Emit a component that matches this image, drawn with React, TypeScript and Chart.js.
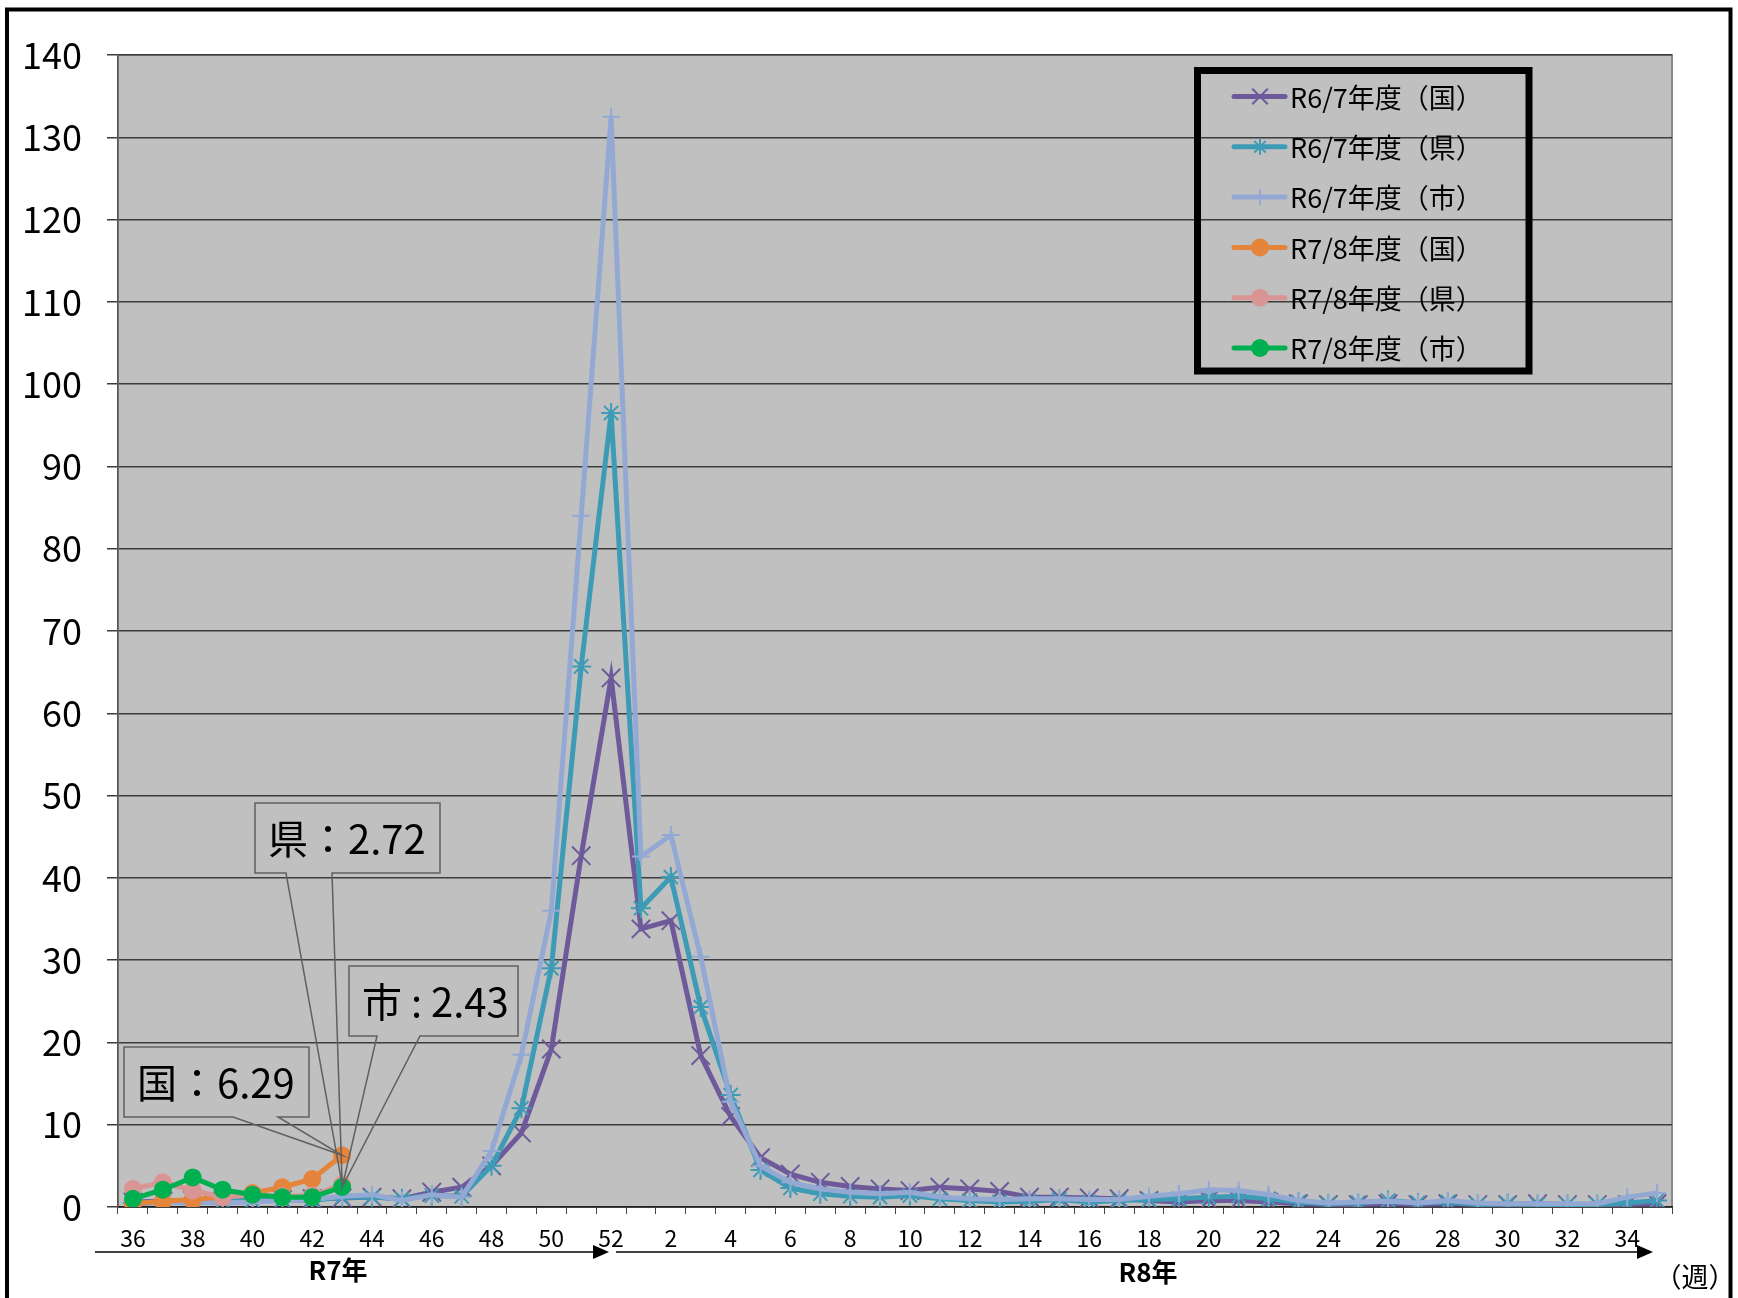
import React, { useEffect, useRef } from 'react';
import { Chart, registerables } from 'chart.js';

Chart.register(...registerables);

const FONT = '"Noto Sans CJK JP", "Noto Sans", sans-serif';

// ---- data ----
const weeks = [
  '36', '37', '38', '39', '40', '41', '42', '43', '44', '45', '46', '47', '48', '49', '50', '51', '52',
  '1', '2', '3', '4', '5', '6', '7', '8', '9', '10', '11', '12', '13', '14', '15', '16', '17', '18', '19', '20',
  '21', '22', '23', '24', '25', '26', '27', '28', '29', '30', '31', '32', '33', '34', '35',
];

const seriesLabels = [
  'R6/7年度（国）',
  'R6/7年度（県）',
  'R6/7年度（市）',
  'R7/8年度（国）',
  'R7/8年度（県）',
  'R7/8年度（市）',
];

const r67Kuni = [
  0.6, 0.7, 0.8, 0.7, 0.8, 0.9, 1.0, 1.1, 1.2, 1.0, 1.8, 2.4, 5.0, 9.0, 19.2, 42.7, 64.3,
  33.8, 34.8, 18.4, 11.0, 6.0, 4.0, 3.0, 2.5, 2.2, 2.0, 2.4, 2.2, 1.9, 1.2, 1.2, 1.1, 1.0, 0.8, 0.6, 0.8,
  0.8, 0.6, 0.4, 0.3, 0.3, 0.4, 0.3, 0.4, 0.3, 0.3, 0.4, 0.3, 0.3, 0.3, 0.4,
];
const r67Ken = [
  0.5, 0.6, 0.5, 0.7, 0.8, 0.9, 0.8, 1.2, 1.2, 1.0, 1.4, 1.3, 5.0, 12.0, 29.0, 65.7, 96.5,
  36.3, 40.1, 24.3, 13.6, 4.5, 2.3, 1.6, 1.3, 1.2, 1.4, 1.0, 0.8, 0.6, 0.7, 0.9, 0.6, 0.8, 0.9, 1.0, 1.2,
  1.3, 1.0, 0.6, 0.4, 0.5, 0.8, 0.5, 0.6, 0.3, 0.4, 0.3, 0.3, 0.3, 0.5, 0.8,
];
const r67Shi = [
  0.4, 0.5, 0.6, 0.5, 0.6, 0.8, 0.9, 1.3, 1.5, 0.8, 1.5, 1.2, 6.8, 18.5, 36.0, 84.0, 132.5,
  42.6, 45.2, 30.4, 12.8, 5.0, 3.0, 2.2, 1.8, 1.6, 1.8, 1.2, 1.0, 0.9, 1.0, 1.0, 0.9, 0.9, 1.3, 1.6, 2.1,
  2.0, 1.5, 0.8, 0.5, 0.6, 0.7, 0.5, 0.8, 0.5, 0.4, 0.4, 0.4, 0.4, 1.2, 1.7,
];
const r78Kuni = [0.4, 0.7, 0.9, 1.2, 1.7, 2.4, 3.4, 6.29];
const r78Ken = [2.2, 3.0, 2.0, 1.2, 1.5, 1.3, 1.4, 2.72];
const r78Shi = [1.0, 2.1, 3.6, 2.1, 1.5, 1.2, 1.2, 2.43];

const calloutNames = ['国', '県', '市'];

// ---- styles ----
const styles = [
  { color: '#6E5A9A', point: 'crossRot', radius: 13, legendR: 11 },
  { color: '#3D9BB5', point: 'star', radius: 10, legendR: 8 },
  { color: '#93A9D3', point: 'cross', radius: 9, legendR: 8 },
  { color: '#E5843B', point: 'circle', radius: 8, legendR: 9 },
  { color: '#D99594', point: 'circle', radius: 8, legendR: 9 },
  { color: '#00B050', point: 'circle', radius: 8, legendR: 9 },
];
const allData = [r67Kuni, r67Ken, r67Shi, r78Kuni, r78Ken, r78Shi];

function drawMarker(ctx: CanvasRenderingContext2D, style: string, x: number, y: number, r: number, color: string) {
  ctx.save();
  ctx.strokeStyle = color;
  ctx.fillStyle = color;
  ctx.lineWidth = 2;
  ctx.beginPath();
  if (style === 'circle') {
    ctx.arc(x, y, r, 0, Math.PI * 2);
    ctx.fill();
  } else {
    const d = r * 0.707;
    if (style === 'crossRot' || style === 'star') {
      ctx.moveTo(x - d, y - d); ctx.lineTo(x + d, y + d);
      ctx.moveTo(x - d, y + d); ctx.lineTo(x + d, y - d);
    }
    if (style === 'cross' || style === 'star') {
      ctx.moveTo(x, y - r); ctx.lineTo(x, y + r);
      ctx.moveTo(x - r, y); ctx.lineTo(x + r, y);
    }
    ctx.stroke();
  }
  ctx.restore();
}

const deco = {
  id: 'deco',
  beforeDraw(chart: any) {
    const { ctx, chartArea: a } = chart;
    ctx.save();
    ctx.fillStyle = '#ffffff';
    ctx.fillRect(0, 0, chart.width, chart.height);
    ctx.fillStyle = '#C0C0C0';
    ctx.fillRect(a.left, a.top, a.right - a.left, a.bottom - a.top);
    ctx.strokeStyle = '#8a8a8a';
    ctx.lineWidth = 2;
    ctx.strokeRect(a.left, a.top, a.right - a.left, a.bottom - a.top);
    // outer frame
    ctx.strokeStyle = '#000';
    ctx.lineWidth = 4;
    ctx.beginPath();
    ctx.moveTo(7, 1300);
    ctx.lineTo(7, 9.5);
    ctx.lineTo(1730.5, 9.5);
    ctx.lineTo(1730.5, 1300);
    ctx.stroke();
    ctx.restore();
  },
  afterDraw(chart: any) {
    const { ctx } = chart;
    const xs = chart.scales.x;
    const ys = chart.scales.y;
    ctx.save();

    // callouts
    const idx = r78Kuni.length - 1;
    const px = xs.getPixelForValue(idx);
    const boxes = [
      { l: 124, t: 1047, r: 309, b: 1117, w1: 233, w2: 278, v: r78Kuni[idx], text: `${calloutNames[0]}：${r78Kuni[idx].toFixed(2)}` },
      { l: 255, t: 803, r: 440, b: 873, w1: 286, w2: 332, v: r78Ken[idx], text: `${calloutNames[1]}：${r78Ken[idx].toFixed(2)}` },
      { l: 349, t: 966, r: 518, b: 1036, w1: 377, w2: 420, v: r78Shi[idx], text: `${calloutNames[2]} : ${r78Shi[idx].toFixed(2)}` },
    ];
    boxes.forEach((c) => {
      const py = ys.getPixelForValue(c.v);
      ctx.strokeStyle = '#606060';
      ctx.lineWidth = 1.5;
      ctx.beginPath();
      ctx.moveTo(c.l, c.t);
      ctx.lineTo(c.r, c.t);
      ctx.lineTo(c.r, c.b);
      ctx.lineTo(c.w2, c.b);
      ctx.lineTo(px, py);
      ctx.lineTo(c.w1, c.b);
      ctx.lineTo(c.l, c.b);
      ctx.closePath();
      ctx.stroke();
      ctx.fillStyle = '#000';
      ctx.font = `40px ${FONT}`;
      ctx.textAlign = 'left';
      ctx.textBaseline = 'middle';
      ctx.fillText(c.text, c.l + 13, (c.t + c.b) / 2 + 1);
    });

    // legend
    ctx.strokeStyle = '#000';
    ctx.lineWidth = 7;
    ctx.strokeRect(1197.5, 70.5, 1529 - 1197.5, 371 - 70.5);
    seriesLabels.forEach((lab, i) => {
      const y = 96.5 + i * 50.3;
      const s = styles[i];
      ctx.strokeStyle = s.color;
      ctx.lineWidth = 5;
      ctx.lineCap = 'round';
      ctx.beginPath();
      ctx.moveTo(1234, y);
      ctx.lineTo(1285, y);
      ctx.stroke();
      ctx.lineCap = 'butt';
      drawMarker(ctx, s.point, 1260, y, s.legendR, s.color);
      ctx.fillStyle = '#000';
      ctx.font = `27px ${FONT}`;
      ctx.textAlign = 'left';
      ctx.textBaseline = 'middle';
      ctx.fillText(lab, 1290, y + 1);
    });

    // arrows
    const arrow = (x1: number, x2: number, y: number) => {
      ctx.strokeStyle = '#000';
      ctx.fillStyle = '#000';
      ctx.lineWidth = 1.5;
      ctx.beginPath();
      ctx.moveTo(x1, y);
      ctx.lineTo(x2 - 14, y);
      ctx.stroke();
      ctx.beginPath();
      ctx.moveTo(x2, y);
      ctx.lineTo(x2 - 16, y - 7);
      ctx.lineTo(x2 - 16, y + 7);
      ctx.closePath();
      ctx.fill();
    };
    arrow(95, 609, 1252);
    arrow(616, 1653, 1252);

    ctx.fillStyle = '#000';
    ctx.font = `bold 26px ${FONT}`;
    ctx.textAlign = 'center';
    ctx.textBaseline = 'middle';
    ctx.fillText('R7年', 338, 1270);
    ctx.fillText('R8年', 1148, 1272);
    ctx.font = `27px ${FONT}`;
    ctx.fillText('（週）', 1695, 1277);

    ctx.restore();
  },
};

export default function App() {
  const ref = useRef<HTMLCanvasElement>(null);

  useEffect(() => {
    const canvas = ref.current!;
    const datasets = allData.map((d, i) => ({
      label: seriesLabels[i],
      data: d,
      borderColor: styles[i].color,
      backgroundColor: styles[i].color,
      pointBorderColor: styles[i].color,
      pointBackgroundColor: styles[i].color,
      borderWidth: 5,
      pointStyle: styles[i].point,
      pointRadius: styles[i].radius,
      pointBorderWidth: 2,
      tension: 0,
      order: 5 - i,
      fill: false,
    }));

    const chart = new Chart(canvas, {
      type: 'line',
      data: { labels: weeks, datasets: datasets as any },
      options: {
        responsive: false,
        animation: false,
        devicePixelRatio: 1,
        layout: { padding: { top: 55, right: 66, left: 0, bottom: 0 } },
        plugins: {
          legend: { display: false },
          tooltip: { enabled: false },
          title: { display: false },
        },
        scales: {
          x: {
            type: 'category',
            offset: true,
            grid: {
              display: true,
              drawOnChartArea: false,
              drawTicks: true,
              tickLength: 7,
              offset: true,
              color: '#444',
              lineWidth: 1,
            },
            border: { display: true, color: '#222', width: 1.5 },
            ticks: {
              autoSkip: false,
              maxRotation: 0,
              minRotation: 0,
              padding: 10,
              color: '#000',
              font: { size: 23, family: FONT },
              callback: (_v: any, i: number) => (i % 2 === 0 ? weeks[i] : ''),
            },
            afterFit: (s: any) => { s.height = 91; },
          },
          y: {
            min: 0,
            max: 140,
            ticks: {
              stepSize: 10,
              padding: 25,
              color: '#000',
              font: { size: 36, family: FONT },
            },
            grid: { color: '#3c3c3c', lineWidth: 1.5, tickLength: 11 },
            border: { display: true, color: '#555', width: 1.5 },
            afterFit: (s: any) => { s.width = 118; },
          },
        },
      } as any,
      plugins: [deco],
    });
    return () => chart.destroy();
  }, []);

  return (
    <div style={{ position: 'absolute', left: 0, top: 0, width: 1738, height: 1298, background: '#fff', overflow: 'hidden' }}>
      <canvas ref={ref} width={1738} height={1298} style={{ display: 'block', width: 1738, height: 1298 }} />
    </div>
  );
}
